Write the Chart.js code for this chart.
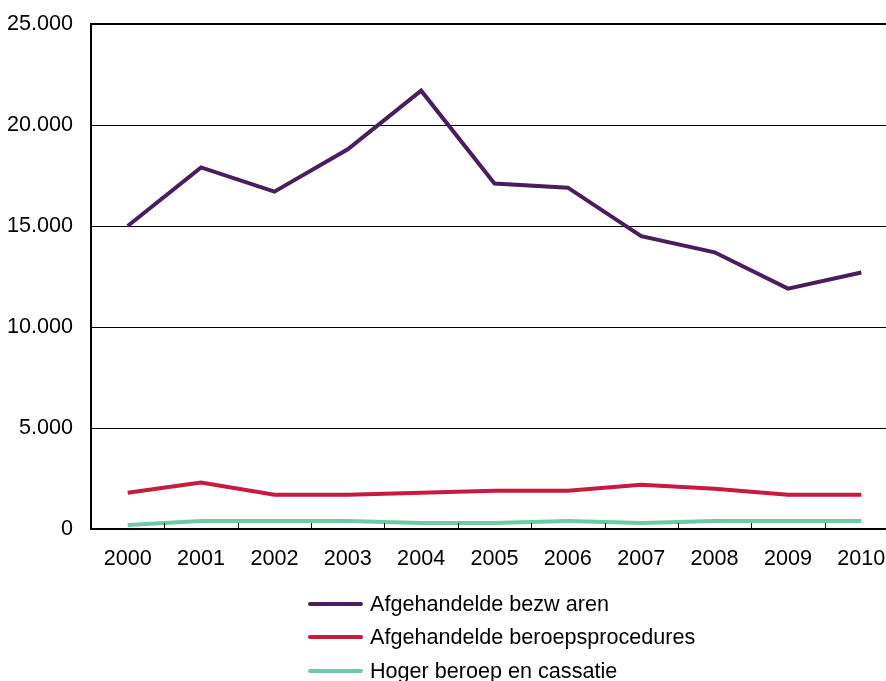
<!DOCTYPE html>
<html>
<head>
<meta charset="utf-8">
<script src="https://cdn.jsdelivr.net/npm/chart.js@4.4.0/dist/chart.umd.min.js"></script>
<style>
  html, body { margin: 0; padding: 0; background: #fff; overflow: hidden; width: 886px; height: 681px; }
  #wrap { position: absolute; left: 0; top: 0; width: 898px; height: 589px; }
  #legend { position: absolute; left: 308px; top: 587px; font-family: "Liberation Sans", Arial, sans-serif; font-size: 21.6px; color: #000; }
  .item { display: flex; align-items: center; height: 33.5px; }
  .sw { width: 55px; height: 4px; margin-right: 7px; border-radius: 2px; }
</style>
</head>
<body>
<div id="wrap"><canvas id="c" width="898" height="589" style="width:898px;height:589px"></canvas></div>
<div id="legend"></div>
<script>
const years = ['2000','2001','2002','2003','2004','2005','2006','2007','2008','2009','2010'];
const seriesNames = ['Afgehandelde bezw aren', 'Afgehandelde beroepsprocedures', 'Hoger beroep en cassatie'];
const bezwaren = [15000, 17900, 16700, 18800, 21700, 17100, 16900, 14500, 13700, 11900, 12700];
const beroepsprocedures = [1800, 2300, 1700, 1700, 1800, 1900, 1900, 2200, 2000, 1700, 1700];
const hogerBeroep = [200, 400, 400, 400, 300, 300, 400, 300, 400, 400, 400];
const yTicks = [0, 5000, 10000, 15000, 20000, 25000];

const colors = ['#4a1d5e', '#c8193f', '#6fc9a3'];

const innerTicks = {
  id: 'innerTicks',
  afterDraw(chart) {
    const xs = chart.scales.x, ctx = chart.ctx, area = chart.chartArea;
    ctx.save();
    ctx.strokeStyle = '#000';
    ctx.lineWidth = 1;
    for (let i = 0; i < years.length - 1; i++) {
      const px = Math.round((xs.getPixelForValue(i) + xs.getPixelForValue(i + 1)) / 2) + 0.5;
      ctx.beginPath();
      ctx.moveTo(px, area.bottom);
      ctx.lineTo(px, area.bottom - 6);
      ctx.stroke();
    }
    ctx.restore();
  }
};

const font = { family: '"Liberation Sans", Arial, sans-serif', size: 21.6 };

const chart = new Chart(document.getElementById('c'), {
  type: 'line',
  data: {
    labels: years,
    datasets: [
      { label: seriesNames[0], data: bezwaren, borderColor: colors[0], backgroundColor: colors[0] },
      { label: seriesNames[1], data: beroepsprocedures, borderColor: colors[1], backgroundColor: colors[1] },
      { label: seriesNames[2], data: hogerBeroep, borderColor: colors[2], backgroundColor: colors[2] }
    ]
  },
  options: {
    responsive: false,
    animation: false,
    layout: { padding: { top: 24, right: 0, bottom: 0, left: 0 } },
    elements: {
      line: { borderWidth: 4, tension: 0, borderJoinStyle: 'miter', borderCapStyle: 'butt' },
      point: { radius: 0, hoverRadius: 0 }
    },
    plugins: { legend: { display: false }, tooltip: { enabled: false } },
    scales: {
      x: {
        offset: true,
        grid: { display: true, drawOnChartArea: false, drawTicks: false, offset: true },
        border: { display: true, color: '#000', width: 2 },
        ticks: { color: '#000', font: font, padding: 17, maxRotation: 0 },
        afterFit(scale) { scale.paddingLeft = 0; scale.paddingRight = 0; }
      },
      y: {
        min: 0, max: 25000,
        afterFit(scale) { scale.width = 91; scale.paddingTop = 0; scale.paddingBottom = 0; },
        afterBuildTicks(scale) { scale.ticks = yTicks.map(v => ({ value: v })); },
        grid: {
          color: '#000',
          lineWidth: ctx => (ctx.tick && ctx.tick.value === 25000 ? 2 : 1),
          drawTicks: false
        },
        border: { display: true, color: '#000', width: 2 },
        ticks: {
          color: '#000', font: font, padding: 18,
          callback: v => v === 0 ? '0' : (v / 1000) + '.000'
        }
      }
    }
  },
  plugins: [innerTicks]
});

const lg = document.getElementById('legend');
chart.data.datasets.forEach(ds => {
  const row = document.createElement('div');
  row.className = 'item';
  const sw = document.createElement('span');
  sw.className = 'sw';
  sw.style.background = ds.borderColor;
  const t = document.createElement('span');
  t.textContent = ds.label;
  row.appendChild(sw); row.appendChild(t);
  lg.appendChild(row);
});
</script>
</body>
</html>
